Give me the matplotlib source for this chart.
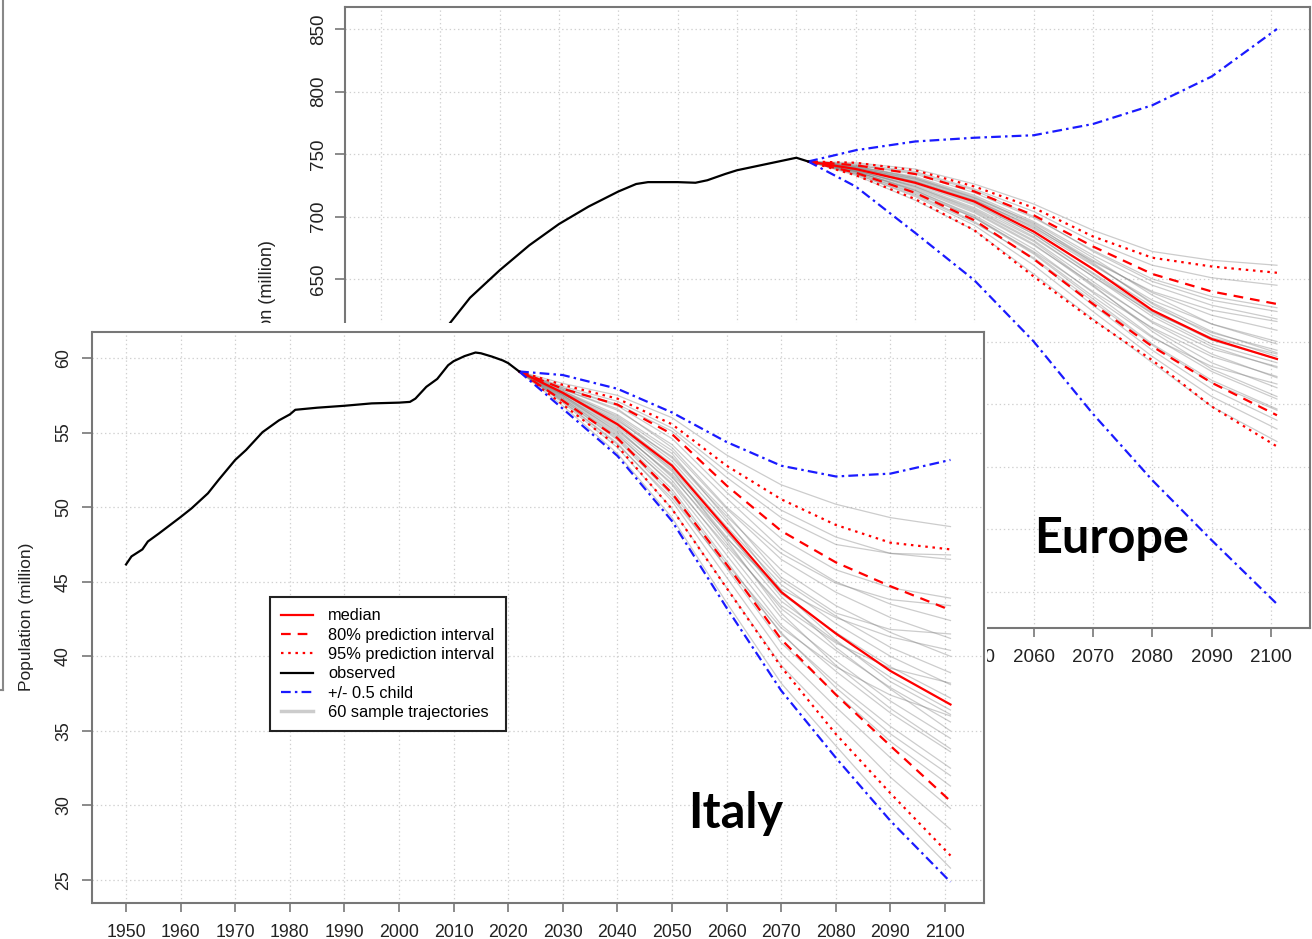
import matplotlib.pyplot as plt
import matplotlib.lines as mlines

plt.rcParams['font.family'] = ['Liberation Sans', 'DejaVu Sans']
plt.rcParams['lines.scale_dashes'] = False

# ---------------- data ----------------
proj_years = [2022, 2030, 2040, 2050, 2060, 2070, 2080, 2090, 2101]
x_ticks = list(range(1950, 2101, 10))

# Europe
eu_obs_years = [1950, 1955, 1960, 1965, 1970, 1975, 1980, 1985, 1990, 1993, 1995,
                2000, 2003, 2005, 2008, 2010, 2015, 2020, 2022]
eu_obs = [549, 577, 605, 635, 657, 677, 694, 708, 720, 726, 727.5,
          727.5, 727, 729, 734, 737, 742, 747, 744]
eu_median = [744, 738, 727, 712, 688, 658, 625, 602, 586]
eu_up80 = [744, 741, 734, 720, 701, 676, 654, 640, 630]
eu_lo80 = [744, 735, 719, 697, 666, 630, 596, 567, 541]
eu_up95 = [744, 743, 737, 724, 707, 684, 667, 660, 655]
eu_lo95 = [744, 733, 714, 689, 652, 617, 585, 548, 516]
eu_child_hi = [744, 753, 760, 763, 765, 774, 789, 812, 850]
eu_child_lo = [744, 724, 687, 649, 600, 542, 489, 441, 390]
eu_y_ticks = list(range(400, 851, 50))
# sample trajectories, values at 2030 ... 2101
eu_traj = [
    [743, 738, 726, 710, 689, 672, 665, 661],
    [742, 736, 722, 704, 680, 661, 651, 645],
    [741, 734, 719, 699, 673, 650, 636, 627],
    [740, 732, 717, 696, 669, 645, 629, 618],
    [740, 731, 715, 693, 665, 639, 621, 609],
    [739, 729, 713, 690, 661, 633, 614, 600],
    [739, 728, 712, 688, 658, 628, 607, 593],
    [738, 727, 710, 686, 655, 624, 601, 586],
    [738, 726, 709, 684, 652, 620, 596, 579],
    [737, 724, 706, 681, 648, 615, 590, 571],
    [737, 723, 704, 678, 644, 610, 583, 563],
    [736, 721, 701, 674, 639, 604, 576, 554],
    [736, 720, 699, 670, 634, 598, 569, 546],
    [735, 718, 696, 666, 629, 593, 562, 537],
    [734, 716, 693, 661, 624, 588, 556, 530],
    [733, 713, 689, 654, 618, 583, 548, 520],
    [741, 735, 721, 700, 672, 648, 633, 624],
    [739, 730, 714, 691, 664, 640, 625, 616],
    [738, 728, 711, 686, 654, 622, 598, 583],
    [737, 725, 707, 683, 652, 623, 603, 590],
    [736, 722, 703, 677, 646, 616, 594, 580],
    [740, 731, 716, 694, 663, 630, 605, 588],
    [737, 724, 705, 680, 645, 608, 578, 556],
    [735, 719, 699, 672, 640, 611, 588, 572],
    [739, 730, 715, 695, 667, 637, 614, 598],
    [736, 721, 700, 671, 636, 603, 580, 566],
    [738, 728, 713, 692, 662, 631, 608, 591],
    [734, 717, 695, 667, 632, 597, 567, 545],
]

# Italy
it_obs_years = [1950, 1951, 1953, 1954, 1956, 1960, 1962, 1965, 1967, 1970, 1972,
                1975, 1978, 1980, 1981, 1985, 1990, 1995, 2000, 2002, 2003, 2005,
                2007, 2009, 2010, 2012, 2014, 2015, 2017, 2019, 2020, 2022]
it_obs = [46.16, 46.7, 47.17, 47.7, 48.23, 49.34, 49.92, 50.93, 51.85, 53.17, 53.84,
          55.03, 55.82, 56.22, 56.53, 56.67, 56.8, 56.96, 57.01, 57.06, 57.28, 58.07,
          58.6, 59.52, 59.79, 60.13, 60.37, 60.32, 60.1, 59.84, 59.66, 59.1]
it_median = [59.1, 57.67, 55.56, 52.78, 48.54, 44.31, 41.53, 39.02, 36.77]
it_up80 = [59.1, 57.94, 56.88, 54.9, 51.45, 48.41, 46.3, 44.7, 43.1]
it_lo80 = [59.1, 57.14, 54.63, 50.93, 46.16, 41.14, 37.43, 34.0, 30.29]
it_up95 = [59.1, 58.2, 57.28, 55.56, 52.78, 50.53, 48.81, 47.62, 47.17]
it_lo95 = [59.1, 56.88, 54.1, 49.87, 44.58, 39.29, 34.79, 30.82, 26.64]
it_child_hi = [59.1, 58.86, 57.94, 56.35, 54.37, 52.78, 52.06, 52.25, 53.17]
it_child_lo = [59.1, 56.6, 53.44, 49.07, 43.25, 37.7, 33.2, 28.97, 24.87]
it_y_ticks = list(range(25, 61, 5))
it_traj = [
    [58.3, 57.5, 56.0, 53.5, 51.5, 50.2, 49.3, 48.7],
    [58.1, 57.1, 55.3, 52.4, 49.8, 48.0, 46.9, 46.5],
    [58.0, 56.8, 54.6, 51.0, 47.9, 45.8, 44.6, 43.9],
    [57.9, 56.5, 54.2, 50.6, 47.2, 45.0, 43.5, 42.4],
    [57.8, 56.2, 53.8, 49.9, 46.5, 44.3, 42.6, 41.2],
    [57.8, 56.0, 53.3, 49.4, 45.8, 43.4, 41.6, 40.0],
    [57.7, 55.9, 53.1, 49.0, 45.1, 42.7, 40.6, 38.9],
    [57.7, 55.7, 52.9, 48.7, 44.8, 42.2, 40.0, 38.1],
    [57.6, 55.5, 52.6, 48.3, 44.2, 41.6, 39.3, 37.2],
    [57.6, 55.4, 52.4, 48.0, 43.7, 41.0, 38.6, 36.4],
    [57.5, 55.2, 52.1, 47.6, 43.2, 40.4, 37.9, 35.6],
    [57.5, 55.0, 51.8, 47.2, 42.6, 39.7, 37.0, 34.5],
    [57.4, 54.9, 51.5, 46.8, 42.1, 39.0, 36.2, 33.6],
    [57.3, 54.7, 51.2, 46.4, 41.5, 38.2, 35.3, 32.5],
    [57.2, 54.5, 50.8, 45.9, 40.9, 37.5, 34.3, 31.3],
    [57.1, 54.3, 50.4, 45.3, 40.2, 36.6, 33.2, 29.8],
    [57.0, 54.0, 49.9, 44.6, 39.4, 35.6, 31.9, 28.4],
    [56.8, 53.6, 49.3, 43.6, 38.2, 34.0, 29.9, 25.8],
    [57.9, 56.6, 54.0, 50.0, 46.9, 44.9, 43.8, 43.4],
    [57.6, 55.8, 53.4, 49.6, 45.3, 42.9, 41.8, 41.5],
    [57.5, 55.3, 52.0, 47.9, 44.5, 42.6, 41.3, 40.4],
    [57.4, 55.1, 52.2, 48.4, 44.0, 40.6, 37.8, 35.0],
    [57.7, 56.1, 53.6, 49.2, 44.4, 41.1, 38.3, 36.1],
    [57.3, 54.8, 51.6, 47.4, 43.4, 40.9, 39.2, 38.2],
    [57.2, 54.6, 51.0, 46.2, 41.9, 39.3, 37.4, 36.0],
    [57.6, 55.6, 52.5, 47.8, 42.9, 39.4, 36.5, 33.8],
    [58.0, 56.9, 55.1, 52.0, 49.3, 47.5, 46.9, 46.8],
    [57.1, 54.2, 50.6, 46.0, 41.6, 37.9, 34.8, 32.0],
]

# ---------------- styles ----------------
RED = '#ff0000'
BLUE = '#1a1aff'
GREY = '#808080'
DASHED = (0, (7, 5))
DOTTED = (0, (1.8, 3.4))
DASHDOT = (0, (7, 3, 1.8, 3))
LW = 1.6
FRAME = '#777777'
TXT = '#222222'


def draw_panel(ax, obs_years, obs, med, lo80, up80, lo95, up95, c_lo, c_hi, traj):
    for t in traj:
        ax.plot(proj_years, [med[0]] + t, color=GREY, lw=0.9, alpha=0.4, zorder=2)
    ax.plot(proj_years, med, color=RED, lw=LW, zorder=4, label='median')
    ax.plot(proj_years, up80, color=RED, lw=LW, ls=DASHED, zorder=4,
            label='80% prediction interval')
    ax.plot(proj_years, lo80, color=RED, lw=LW, ls=DASHED, zorder=4)
    ax.plot(proj_years, up95, color=RED, lw=LW, ls=DOTTED, zorder=4,
            label='95% prediction interval')
    ax.plot(proj_years, lo95, color=RED, lw=LW, ls=DOTTED, zorder=4)
    ax.plot(obs_years, obs, color='black', lw=LW, zorder=5, label='observed')
    ax.plot(proj_years, c_hi, color=BLUE, lw=LW, ls=DASHDOT, zorder=4, label='+/- 0.5 child')
    ax.plot(proj_years, c_lo, color=BLUE, lw=LW, ls=DASHDOT, zorder=4)

    ax.set_xticks(x_ticks)
    ax.grid(True, color='#d0d0d0', ls=(0, (1, 2)), lw=0.9)
    ax.set_axisbelow(True)
    for s in ax.spines.values():
        s.set_color(FRAME)
        s.set_linewidth(1.5)
    ax.set_facecolor('white')


fig = plt.figure(figsize=(13.12, 9.39), dpi=100)

# left-hand edge of another panel behind everything
fig.add_artist(mlines.Line2D([3 / 1312, 3 / 1312], [1, 1 - 690 / 939], color='#888888',
                             lw=1.5, transform=fig.transFigure))
fig.add_artist(mlines.Line2D([0, 3 / 1312], [1 - 690 / 939, 1 - 690 / 939], color='#888888',
                             lw=1.5, transform=fig.transFigure))

# Europe (back panel)
ax_eu = fig.add_axes([345 / 1312, 1 - 628 / 939, 965 / 1312, 621 / 939], zorder=1)
draw_panel(ax_eu, eu_obs_years, eu_obs, eu_median, eu_lo80, eu_up80, eu_lo95, eu_up95,
           eu_child_lo, eu_child_hi, eu_traj)
ax_eu.set_xlim(1943.93, 2106.57)
ax_eu.set_ylim(370.8, 867.6)
ax_eu.set_yticks(eu_y_ticks)
# labels that sit under the Italy screenshot are left blank
ax_eu.set_xticklabels([str(t) if t >= 2050 else '' for t in x_ticks])
ax_eu.set_yticklabels([str(t) if t >= 650 else '' for t in eu_y_ticks])
ax_eu.tick_params(axis='x', length=6.5, width=1.2, color=FRAME, pad=8.5, labelsize=13.5,
                  labelcolor=TXT)
ax_eu.tick_params(axis='y', length=7.2, width=1.2, color=FRAME, pad=6, labelsize=13.5,
                  labelcolor=TXT, labelrotation=90)
for lab in ax_eu.get_yticklabels():
    lab.set_va('center')
ax_eu.set_ylabel('Population (million)', fontsize=13, color=TXT)
ax_eu.yaxis.label.set_va('center')
ax_eu.yaxis.set_label_coords((268 - 345) / 965, 0.5)

# white cut-out where the Italy screenshot is pasted on top
cover = fig.add_axes([6 / 1312, 0, 981 / 1312, 616 / 939], zorder=2)
cover.set_facecolor('white')
cover.set_xticks([])
cover.set_yticks([])
for s in cover.spines.values():
    s.set_visible(False)

# Italy (front panel)
ax_it = fig.add_axes([92.5 / 1312, 1 - 903 / 939, 891.5 / 1312, 571.5 / 939], zorder=3)
draw_panel(ax_it, it_obs_years, it_obs, it_median, it_lo80, it_up80, it_lo95, it_up95,
           it_child_lo, it_child_hi, it_traj)
ax_it.set_xlim(1943.86, 2107.14)
ax_it.set_ylim(23.46, 61.78)
ax_it.set_yticks(it_y_ticks)
ax_it.tick_params(axis='x', length=6.5, width=1.2, color=FRAME, pad=8.5, labelsize=12.8,
                  labelcolor=TXT)
ax_it.tick_params(axis='y', length=7.2, width=1.2, color=FRAME, pad=7.5, labelsize=12.8,
                  labelcolor=TXT, labelrotation=90)
for lab in ax_it.get_yticklabels():
    lab.set_va('center')
ax_it.set_ylabel('Population (million)', fontsize=12.5, color=TXT)
ax_it.yaxis.label.set_va('center')
ax_it.yaxis.set_label_coords((27 - 92.5) / 891.5, 0.5)

handles, labels = ax_it.get_legend_handles_labels()
handles.append(mlines.Line2D([], [], color='#cccccc', lw=2.5))
labels.append('60 sample trajectories')
leg = ax_it.legend(handles, labels, loc='upper left', bbox_to_anchor=(270 / 1312, 1 - 597 / 939),
                   bbox_transform=fig.transFigure, borderaxespad=0, fontsize=11.8,
                   fancybox=False, framealpha=1, edgecolor=TXT, borderpad=0.7,
                   handlelength=1.9, handletextpad=0.95, labelspacing=0.26)
leg.get_frame().set_linewidth(1.5)

# region names pasted on the screenshots
fig.text(1112 / 1312, 1 - 553 / 939, 'Europe', ha='center', va='baseline', fontsize=35,
         fontweight='bold', family=['Lato', 'DejaVu Sans'], zorder=10)
fig.text(736 / 1312, 1 - 828 / 939, 'Italy', ha='center', va='baseline', fontsize=35,
         fontweight='bold', family=['Lato', 'DejaVu Sans'], zorder=10)

plt.savefig('out.png', dpi=100)
